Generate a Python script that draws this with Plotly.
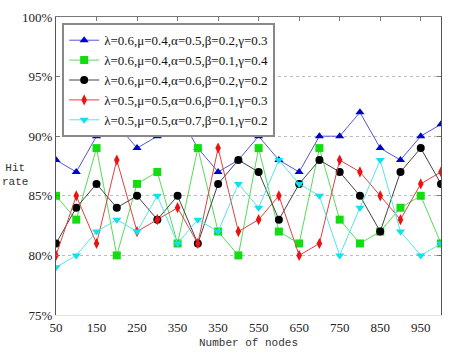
import plotly.graph_objects as go

nodes = list(range(50, 1001, 50))
tick_vals = [50, 150, 250, 350, 450, 550, 650, 750, 850, 950]
tick_text = ["50", "150", "250", "350", "350", "550", "650", "750", "850", "950"]
y_ticks = [75, 80, 85, 90, 95, 100]
y_tick_text = ["75%", "80%", "85%", "90%", "95%", "100%"]

names = [
    "λ=0.6,μ=0.4,α=0.5,β=0.2,γ=0.3",
    "λ=0.6,μ=0.4,α=0.5,β=0.1,γ=0.4",
    "λ=0.6,μ=0.4,α=0.6,β=0.2,γ=0.2",
    "λ=0.5,μ=0.5,α=0.6,β=0.1,γ=0.3",
    "λ=0.5,μ=0.5,α=0.7,β=0.1,γ=0.2",
]
s_blue = [88, 87, 90, 91, 89, 90, 92, 89, 87, 88, 90, 88, 87, 90, 90, 92, 89, 88, 90, 91]
s_green = [85, 83, 89, 80, 86, 87, 81, 89, 82, 80, 89, 82, 81, 89, 83, 81, 82, 84, 85, 81]
s_black = [81, 84, 86, 84, 85, 83, 85, 81, 86, 88, 87, 83, 86, 88, 87, 85, 82, 87, 89, 86]
s_red = [80, 85, 81, 88, 82, 83, 84, 81, 89, 82, 83, 85, 80, 81, 88, 87, 85, 83, 86, 87]
s_cyan = [79, 80, 82, 83, 82, 85, 81, 83, 82, 86, 84, 88, 86, 85, 80, 84, 88, 82, 80, 81]

series = [s_blue, s_green, s_black, s_red, s_cyan]
line_colors = ["#5555dd", "#55dd55", "#444444", "#e04040", "#55e5e5"]
marker_colors = ["#0000cc", "#11dd11", "#000000", "#ee1111", "#11e0ee"]
symbols = ["triangle-up", "square", "circle", "diamond-tall", "triangle-down"]

fig = go.Figure()
for name, ys, lc, mc, sym in zip(names, series, line_colors, marker_colors, symbols):
    fig.add_trace(go.Scatter(
        x=nodes, y=ys, name=name, mode="lines+markers",
        line=dict(color=lc, width=1),
        marker=dict(color=mc, symbol=sym, size=8, line=dict(width=0)),
    ))

# invisible trace to carry the top axis
fig.add_trace(go.Scatter(x=[nodes[0]], y=[s_blue[0]], xaxis="x2", showlegend=False,
                         mode="markers", marker=dict(opacity=0), hoverinfo="skip"))

serif = "Liberation Serif"
mono = "Liberation Mono"

fig.update_layout(
    width=452, height=356,
    margin=dict(l=56, r=10, t=16, b=39),
    paper_bgcolor="white", plot_bgcolor="white",
    font=dict(family=serif, size=13, color="#222"),
    showlegend=True,
    legend=dict(
        x=0.016, y=0.979, xanchor="left", yanchor="top",
        bgcolor="white", bordercolor="#888", borderwidth=2,
        font=dict(family=serif, size=13, color="#111"),
        tracegroupgap=0, itemwidth=30,
    ),
    xaxis=dict(
        range=[50, 1000], tickvals=tick_vals, ticktext=tick_text,
        showgrid=False, zeroline=False,
        showline=True, linecolor="#e4e4e4", linewidth=1,
        ticks="", tickfont=dict(family=serif, size=13, color="#222"),
        title=dict(text="Number of nodes", font=dict(family=mono, size=11, color="#333"), standoff=4),
    ),
    xaxis2=dict(
        range=[50, 1000], overlaying="x", side="top", tickvals=tick_vals,
        showticklabels=False, showgrid=False, zeroline=False,
        showline=True, linecolor="#777", linewidth=1.2,
        ticks="inside", ticklen=4, tickcolor="#777",
    ),
    yaxis=dict(
        range=[75, 100], tickvals=y_ticks, ticktext=y_tick_text,
        showgrid=True, gridcolor="#bbbbbb", griddash="dot", gridwidth=1,
        zeroline=False, showline=True, linecolor="#555", linewidth=1.2,
        mirror="ticks", ticks="inside", ticklen=4, tickcolor="#777",
        tickfont=dict(family=serif, size=13, color="#222"),
    ),
)

fig.add_annotation(text="Hit<br>rate", x=-0.145, y=0.47, xref="paper", yref="paper",
                   xanchor="left", yanchor="middle", showarrow=False, align="center",
                   font=dict(family=mono, size=11, color="#333"))

fig.write_html("out.html")
